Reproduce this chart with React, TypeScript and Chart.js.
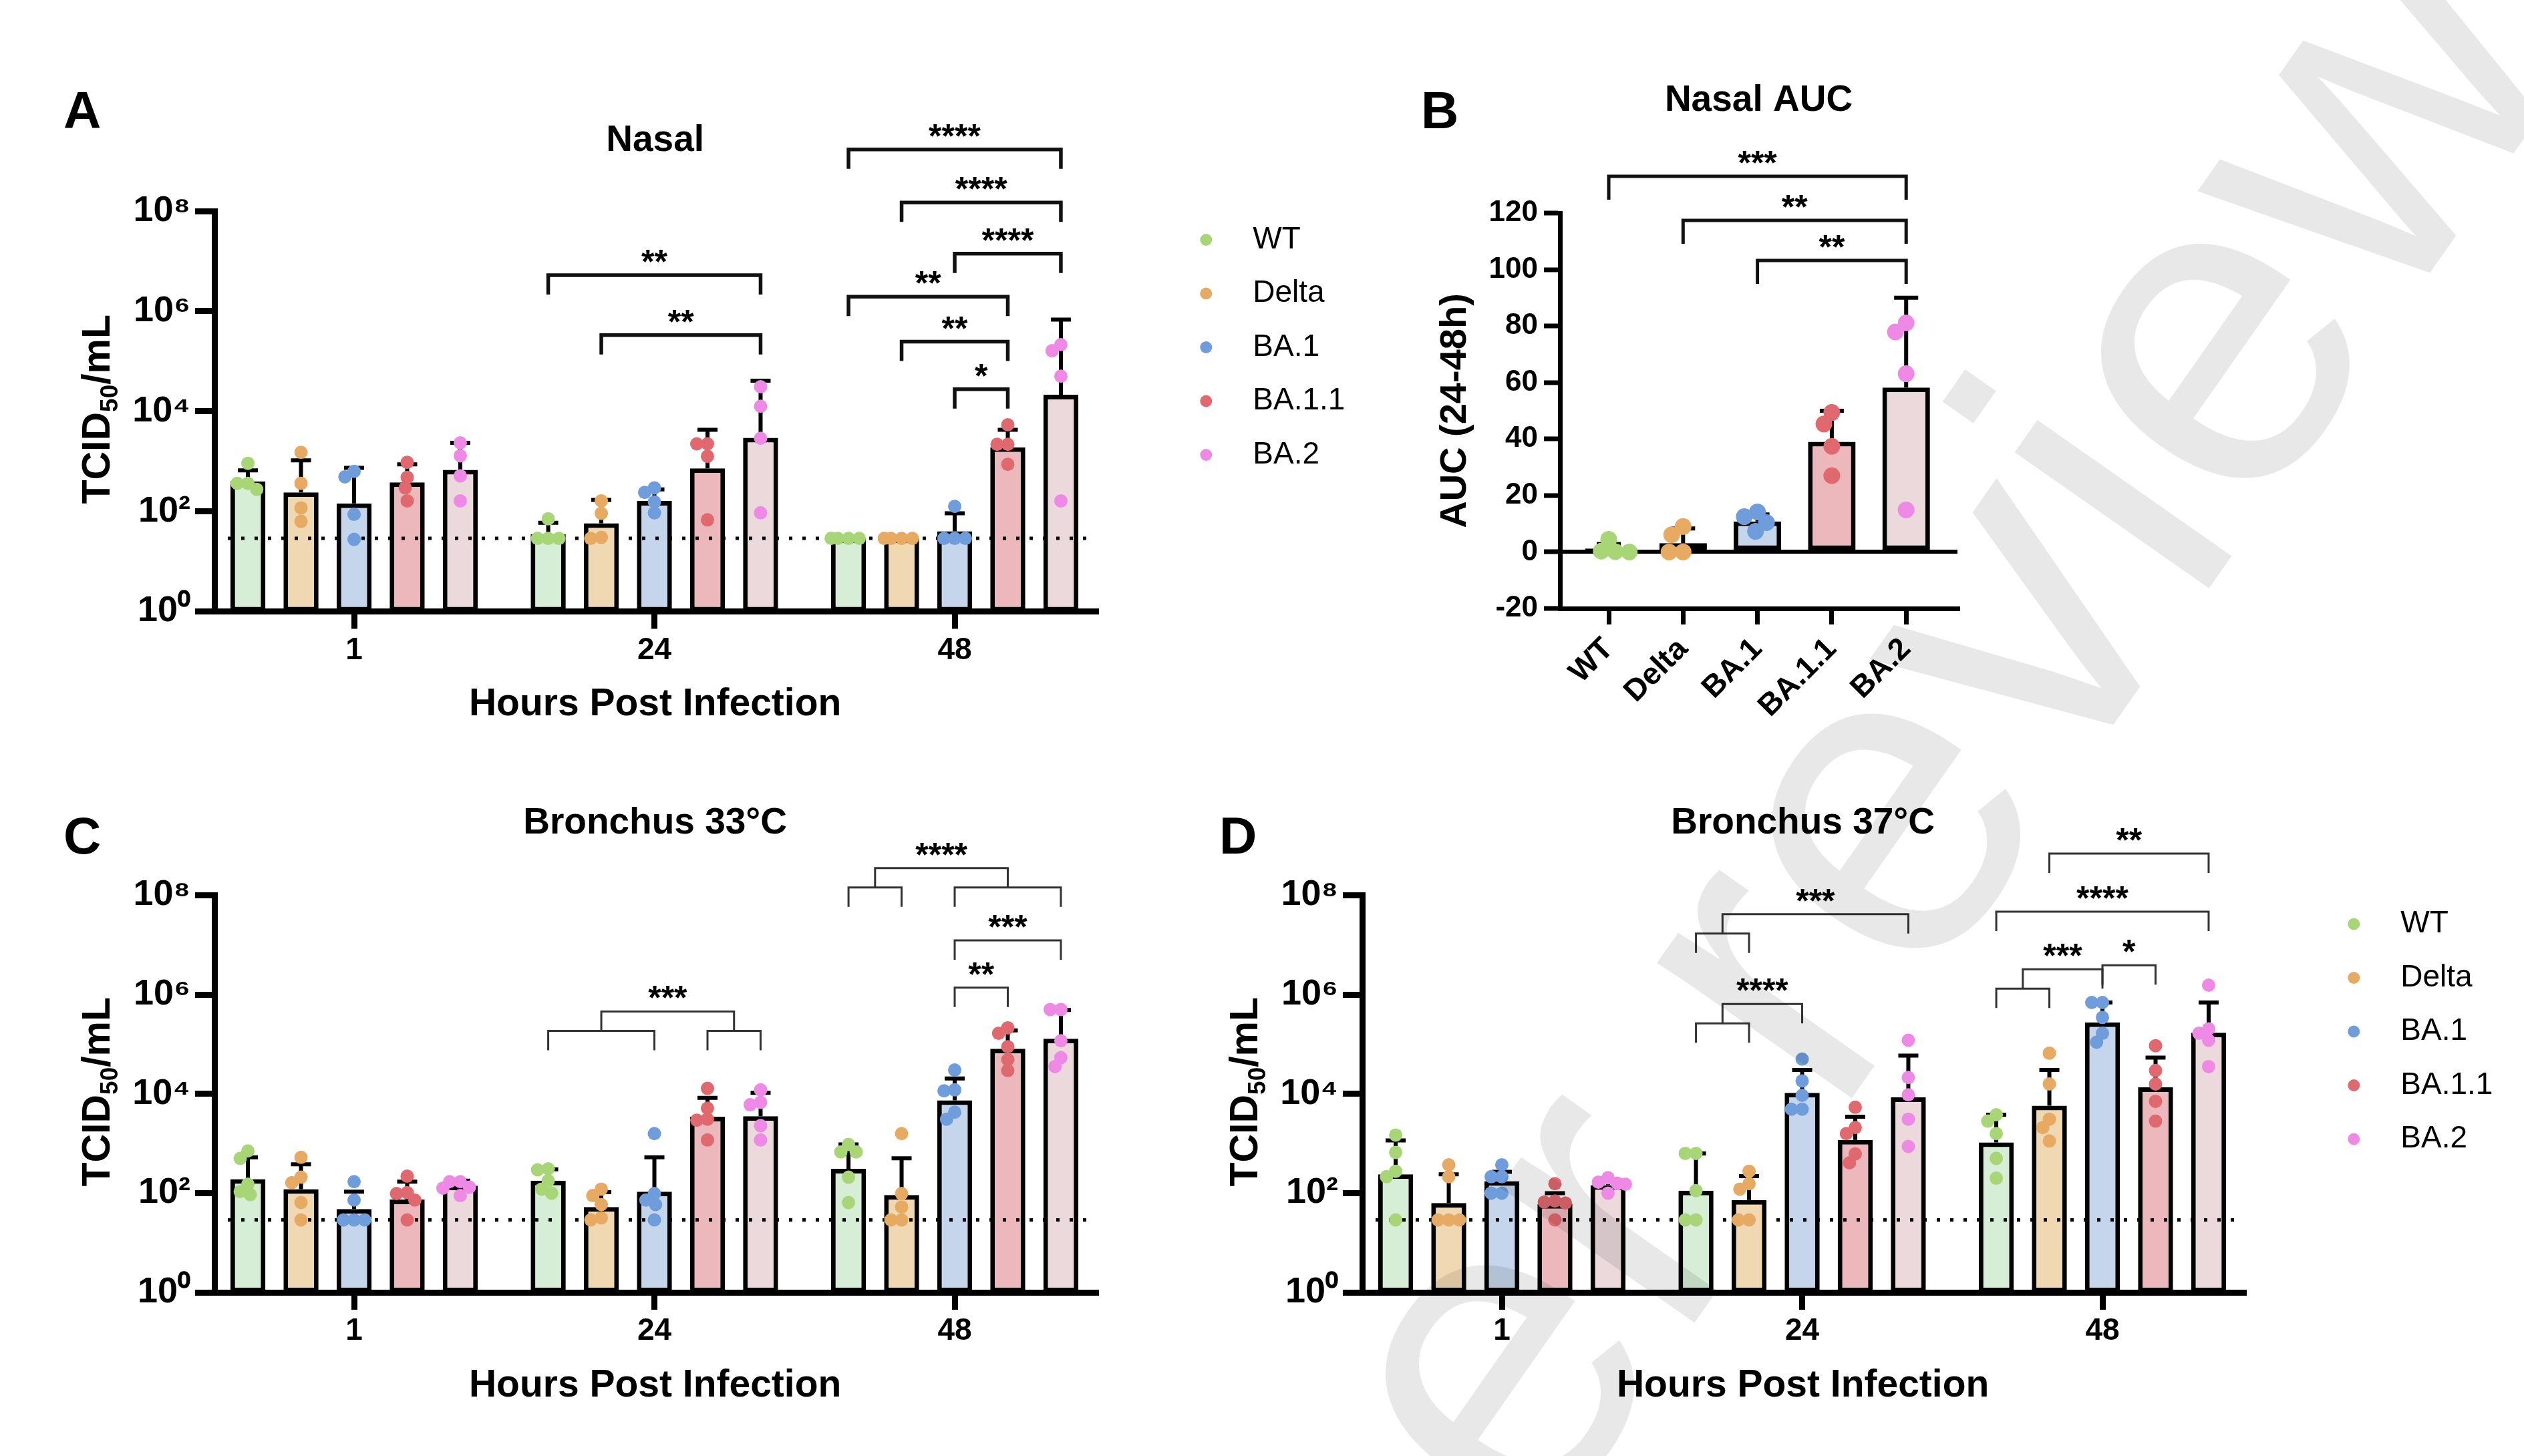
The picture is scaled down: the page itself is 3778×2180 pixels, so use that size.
import React, { useEffect, useRef } from 'react';
import { Chart, registerables } from 'chart.js';

Chart.register(...registerables);

const FONT = '"Liberation Sans", Arial, Helvetica, sans-serif';
const W = 3778;
const H = 2180;

// ---------- shared categories ----------
const SERIES = ['WT', 'Delta', 'BA.1', 'BA.1.1', 'BA.2'];
const HOURS = ['1', '24', '48'];
const LOG_TICK_EXPONENTS = [0, 2, 4, 6, 8];
const SUPERSCRIPTS = ['⁰', '¹', '²', '³', '⁴', '⁵', '⁶', '⁷', '⁸', '⁹'];
const POINT_COLORS = ['#a8d677', '#e6aa62', '#6f9cdb', '#e0686f', '#ee89e6'];
const BAR_COLORS = ['#d6edd6', '#f0d8b2', '#c5d5eb', '#ecb8bc', '#ecd9dc'];
const LOD_LOG10 = 1.46; // limit of detection (dotted line)

// ---------- A: Nasal (log10 TCID50/mL), [series][hour] ----------
const nasalMeanLog = [
  [2.6, 1.54, 1.46],
  [2.38, 1.76, 1.46],
  [2.16, 2.21, 1.6],
  [2.58, 2.86, 3.28],
  [2.83, 3.47, 4.33],
];
const nasalErrTopLog = [
  [2.82, 1.77, null],
  [3.02, 2.23, null],
  [2.87, 2.44, 1.96],
  [2.94, 3.63, 3.63],
  [3.37, 4.61, 5.83],
];
const nasalPointsLog = [
  [[2.96, 2.56, 2.56, 2.44], [1.85, 1.46, 1.46, 1.46], [1.46, 1.46, 1.46, 1.46]],
  [[3.18, 2.56, 2.07, 1.8], [2.21, 1.96, 1.48, 1.46], [1.46, 1.46, 1.46, 1.46]],
  [[2.8, 2.69, 1.94, 1.44], [2.47, 2.38, 2.19, 1.97], [2.1, 1.46, 1.46, 1.46]],
  [[2.98, 2.68, 2.47, 2.21], [3.35, 3.35, 3.1, 1.83], [3.73, 3.34, 3.34, 2.94]],
  [[3.37, 3.11, 2.71, 2.21], [4.49, 4.1, 3.46, 1.97], [5.33, 5.21, 4.7, 2.21]],
];
// [hour, leftFrom, leftTo, rightFrom, rightTo, level (log10), label]
const nasalBrackets: [number, number, number, number, number, number, string][] = [
  [1, 0, 0, 4, 4, 6.72, '**'],
  [1, 1, 1, 4, 4, 5.52, '**'],
  [2, 0, 0, 4, 4, 9.23, '****'],
  [2, 1, 1, 4, 4, 8.17, '****'],
  [2, 2, 2, 4, 4, 7.15, '****'],
  [2, 0, 0, 3, 3, 6.29, '**'],
  [2, 1, 1, 3, 3, 5.39, '**'],
  [2, 2, 2, 3, 3, 4.44, '*'],
];

// ---------- B: Nasal AUC (24-48h) ----------
const aucMean = [1.2, 3.1, 10.8, 39.0, 58.2];
const aucErrTop = [2.8, 8.3, 13.3, 50.0, 90.0];
const aucPoints = [
  [4.5, 0.3, 0.1, 0.0],
  [9.0, 6.1, 0.0, 0.0],
  [14.2, 12.5, 10.4, 7.3],
  [49.4, 45.3, 37.4, 27.0],
  [81.1, 77.9, 63.1, 14.9],
];
const aucBrackets: [number, number, number, number, number, number, string][] = [
  [0, 0, 0, 4, 4, 133, '***'],
  [0, 1, 1, 4, 4, 117.4, '**'],
  [0, 2, 2, 4, 4, 103.2, '**'],
];

// ---------- C: Bronchus 33°C (log10 TCID50/mL) ----------
const b33MeanLog = [
  [2.28, 2.25, 2.49],
  [2.08, 1.72, 1.96],
  [1.68, 2.03, 3.87],
  [1.87, 3.54, 4.91],
  [2.15, 3.55, 5.11],
];
const b33ErrTopLog = [
  [2.72, 2.48, 2.98],
  [2.58, 2.02, 2.7],
  [2.03, 2.72, 4.31],
  [2.23, 3.92, 5.28],
  [2.25, 4.02, 5.69],
];
const b33PointsLog = [
  [[2.85, 2.7, 2.18, 2.03, 1.97], [2.49, 2.47, 2.25, 2.08, 2.0], [2.98, 2.83, 2.83, 2.32, 1.81]],
  [[2.72, 2.32, 2.21, 1.81, 1.46], [2.08, 1.95, 1.77, 1.5, 1.46], [3.2, 1.99, 1.72, 1.46, 1.46]],
  [[2.23, 1.86, 1.46, 1.46, 1.46], [3.2, 1.99, 1.86, 1.77, 1.46], [4.48, 4.08, 4.06, 3.63, 3.49]],
  [[2.34, 2.01, 1.99, 1.86, 1.46], [4.11, 3.71, 3.49, 3.47, 3.07], [5.33, 5.22, 4.95, 4.69, 4.47]],
  [[2.23, 2.23, 2.12, 2.1, 1.95], [4.08, 3.83, 3.78, 3.36, 3.07], [5.7, 5.7, 5.07, 4.73, 4.55]],
];
const b33Brackets: [number, number, number, number, number, number, string][] = [
  [1, 0, 2, 3, 4, 5.66, '***'],
  [2, 0, 1, 2, 4, 8.55, '****'],
  [2, 2, 2, 4, 4, 7.09, '***'],
  [2, 2, 2, 3, 3, 6.14, '**'],
];

// ---------- D: Bronchus 37°C (log10 TCID50/mL) ----------
const b37MeanLog = [
  [2.38, 2.05, 3.02],
  [1.8, 1.86, 3.76],
  [2.24, 4.02, 5.44],
  [1.78, 3.07, 4.13],
  [2.16, 3.93, 5.23],
];
const b37ErrTopLog = [
  [3.06, 2.8, 3.58],
  [2.38, 2.34, 4.48],
  [2.43, 4.48, 5.84],
  [2.0, 3.54, 4.73],
  [2.27, 4.77, 5.84],
];
const b37PointsLog = [
  [[3.17, 2.82, 2.44, 2.33, 1.46], [2.8, 2.8, 2.05, 1.46, 1.46], [3.58, 3.45, 3.2, 2.7, 2.3]],
  [[2.57, 2.33, 1.46, 1.46, 1.46], [2.44, 2.19, 2.08, 1.46, 1.46], [4.82, 4.2, 3.49, 3.32, 3.05]],
  [[2.57, 2.33, 2.33, 2.0, 2.0], [4.7, 4.26, 3.97, 3.69, 3.69], [5.84, 5.84, 5.54, 5.22, 5.04]],
  [[2.19, 1.84, 1.82, 1.8, 1.46], [3.73, 3.32, 3.2, 2.79, 2.61], [4.97, 4.47, 4.2, 3.85, 3.45]],
  [[2.31, 2.22, 2.2, 2.18, 2.0], [5.08, 4.33, 3.98, 3.49, 2.94], [6.19, 5.31, 5.22, 5.08, 4.55]],
];
const b37Brackets: [number, number, number, number, number, number, string][] = [
  [1, 0, 1, 4, 4, 7.62, '***'],
  [1, 0, 1, 2, 2, 5.81, '****'],
  [2, 1, 1, 4, 4, 8.84, '**'],
  [2, 0, 0, 4, 4, 7.67, '****'],
  [2, 0, 1, 2, 2, 6.51, '***'],
  [2, 2, 2, 3, 3, 6.59, '*'],
];

// ---------- layout / style constants ----------
const X_MIN = -0.465;
const X_MAX = 2.47;
const UNIT_PX = 449.5;
const CAT_PCT = 0.884;
const BAR_PCT = 0.66;
const AUC_X_MIN = -0.656;
const AUC_X_MAX = 4.69;

type Bracket = [number, number, number, number, number, number, string];

function swarm(chart: any, spacing: number, maxOff: number) {
  chart.data.datasets.forEach((ds: any, i: number) => {
    if (!ds.swarm) return;
    const meta = chart.getDatasetMeta(i);
    const groups = new Map<number, any[]>();
    meta.data.forEach((el: any, j: number) => {
      const key = ds.data[j].x;
      if (!groups.has(key)) groups.set(key, []);
      groups.get(key)!.push(el);
    });
    groups.forEach((els) => {
      const sorted = [...els].sort((a, b) => a.y - b.y);
      const placed: { y: number; off: number }[] = [];
      sorted.forEach((el) => {
        const near = placed.filter((p) => Math.abs(p.y - el.y) < spacing);
        const need = (p: { y: number }) => Math.sqrt(spacing * spacing - (p.y - el.y) ** 2);
        const cands = [0];
        near.forEach((p) => {
          cands.push(p.off - need(p), p.off + need(p));
        });
        cands.sort((a, b) => Math.abs(a) - Math.abs(b) || a - b);
        let off = cands.find((c) => near.every((p) => Math.abs(c - p.off) >= need(p) - 0.5));
        if (off === undefined) off = 0;
        off = Math.max(-maxOff, Math.min(maxOff, off));
        placed.push({ y: el.y, off });
        el.x = el.x + off;
      });
    });
  });
}

function drawErrorBars(chart: any, index: number, width: number, cap: number) {
  const ds = chart.data.datasets[index];
  if (!ds.errTop) return;
  const meta = chart.getDatasetMeta(index);
  const ys = chart.scales.y;
  const ctx = chart.ctx;
  ctx.save();
  ctx.strokeStyle = '#000';
  ctx.lineWidth = width;
  meta.data.forEach((el: any, j: number) => {
    const v = ds.errTop[j];
    if (v == null) return;
    const yt = ys.getPixelForValue(v);
    if (yt >= el.y - 1) return;
    ctx.beginPath();
    ctx.moveTo(el.x, el.y);
    ctx.lineTo(el.x, yt);
    ctx.moveTo(el.x - cap / 2, yt);
    ctx.lineTo(el.x + cap / 2, yt);
    ctx.stroke();
  });
  ctx.restore();
}

function drawBrackets(
  chart: any,
  items: Bracket[],
  barX: (g: number, s: number) => number,
  toVal: (v: number) => number,
  leg: number,
  lw: number,
  color: string,
  fontSize: number
) {
  const ctx = chart.ctx;
  const ys = chart.scales.y;
  ctx.save();
  ctx.strokeStyle = color;
  ctx.lineWidth = lw;
  ctx.lineJoin = 'miter';
  ctx.lineCap = 'butt';
  ctx.fillStyle = '#000';
  ctx.font = `bold ${fontSize}px ${FONT}`;
  ctx.textAlign = 'center';
  ctx.textBaseline = 'alphabetic';
  items.forEach(([g, l0, l1, r0, r1, level, label]) => {
    const yTop = ys.getPixelForValue(toVal(level));
    const side = (a: number, b: number) => {
      if (a === b) return { x: barX(g, a), yEnd: yTop + leg };
      const xa = barX(g, a);
      const xb = barX(g, b);
      const ySub = yTop + leg;
      ctx.beginPath();
      ctx.moveTo(xa, ySub + leg);
      ctx.lineTo(xa, ySub);
      ctx.lineTo(xb, ySub);
      ctx.lineTo(xb, ySub + leg);
      ctx.stroke();
      return { x: (xa + xb) / 2, yEnd: ySub };
    };
    const L = side(l0, l1);
    const R = side(r0, r1);
    ctx.beginPath();
    ctx.moveTo(L.x, L.yEnd);
    ctx.lineTo(L.x, yTop);
    ctx.lineTo(R.x, yTop);
    ctx.lineTo(R.x, R.yEnd);
    ctx.stroke();
    ctx.fillText(label, (L.x + R.x) / 2, yTop - 3);
  });
  ctx.restore();
}

function drawTcidTitle(ctx: CanvasRenderingContext2D, x: number, y: number, size: number) {
  ctx.save();
  ctx.translate(x, y);
  ctx.rotate(-Math.PI / 2);
  const big = `bold ${size}px ${FONT}`;
  const small = `bold ${Math.round(size * 0.62)}px ${FONT}`;
  ctx.font = big;
  const w1 = ctx.measureText('TCID').width;
  const w3 = ctx.measureText('/mL').width;
  ctx.font = small;
  const w2 = ctx.measureText('50').width;
  let cx = -(w1 + w2 + w3) / 2;
  ctx.fillStyle = '#000';
  ctx.textAlign = 'left';
  ctx.textBaseline = 'alphabetic';
  ctx.font = big;
  ctx.fillText('TCID', cx, 0);
  cx += w1;
  ctx.font = small;
  ctx.fillText('50', cx, size * 0.2);
  cx += w2;
  ctx.font = big;
  ctx.fillText('/mL', cx, 0);
  ctx.restore();
}

function drawLetter(ctx: CanvasRenderingContext2D, letter: string, x: number, y: number) {
  ctx.save();
  ctx.fillStyle = '#000';
  ctx.font = `bold 78px ${FONT}`;
  ctx.textAlign = 'left';
  ctx.textBaseline = 'alphabetic';
  ctx.fillText(letter, x, y);
  ctx.restore();
}

function drawLegend(chart: any) {
  const ctx = chart.ctx;
  const a = chart.chartArea;
  ctx.save();
  SERIES.forEach((name, s) => {
    const y = a.top + 43 + s * 80.5;
    ctx.fillStyle = POINT_COLORS[s];
    ctx.beginPath();
    ctx.arc(a.right + 165, y, 9, 0, Math.PI * 2);
    ctx.fill();
    ctx.fillStyle = '#000';
    ctx.font = `46px ${FONT}`;
    ctx.textAlign = 'left';
    ctx.textBaseline = 'middle';
    ctx.fillText(name, a.right + 235, y);
  });
  ctx.restore();
}

function drawWatermark(ctx: CanvasRenderingContext2D) {
  ctx.save();
  ctx.translate(1824, 2998);
  ctx.rotate((-55 * Math.PI) / 180);
  ctx.fillStyle = 'rgba(0,0,0,0.09)';
  ctx.font = `672px ${FONT}`;
  ctx.textAlign = 'left';
  ctx.textBaseline = 'alphabetic';
  ctx.fillText('Peer review', 0, 0);
  ctx.restore();
}

interface LogPanel {
  id: string;
  title: string;
  letter: string;
  letterPos: [number, number];
  mean: number[][];
  errTop: (number | null)[][];
  points: number[][][];
  brackets: Bracket[];
  left: number;
  top: number;
  bottom: number;
  titleMid: number;
  legend: boolean;
  watermark: boolean;
  bracketWidth: number;
  bracketColor: string;
}

const panels: LogPanel[] = [
  {
    id: 'A', title: 'Nasal', letter: 'A', letterPos: [95, 192],
    mean: nasalMeanLog, errTop: nasalErrTopLog, points: nasalPointsLog, brackets: nasalBrackets,
    left: 321, top: 316, bottom: 915.5, titleMid: 211, legend: true, watermark: false,
    bracketWidth: 5.5, bracketColor: '#111',
  },
  {
    id: 'C', title: 'Bronchus 33°C', letter: 'C', letterPos: [95, 1278],
    mean: b33MeanLog, errTop: b33ErrTopLog, points: b33PointsLog, brackets: b33Brackets,
    left: 321, top: 1340.5, bottom: 1935, titleMid: 1233, legend: false, watermark: false,
    bracketWidth: 3, bracketColor: '#333',
  },
  {
    id: 'D', title: 'Bronchus 37°C', letter: 'D', letterPos: [1825, 1278],
    mean: b37MeanLog, errTop: b37ErrTopLog, points: b37PointsLog, brackets: b37Brackets,
    left: 2039, top: 1340.5, bottom: 1935, titleMid: 1233, legend: true, watermark: true,
    bracketWidth: 3, bracketColor: '#333',
  },
];

function logConfig(p: LogPanel): any {
  const right = p.left + (X_MAX - X_MIN) * UNIT_PX;
  const yW = 200;
  const xH = 174;
  const titleLH = 66;
  const pt = p.titleMid - titleLH / 2;
  const pb = p.top - pt - titleLH;
  const datasets: any[] = [];
  SERIES.forEach((name, s) => {
    datasets.push({
      type: 'bar',
      label: name,
      data: HOURS.map((_, g) => ({ x: g, y: 10 ** p.mean[s][g] })),
      errTop: p.errTop[s].map((v) => (v == null ? null : 10 ** v)),
      backgroundColor: BAR_COLORS[s],
      borderColor: '#000',
      borderWidth: 7,
      borderSkipped: false,
      categoryPercentage: CAT_PCT,
      barPercentage: BAR_PCT,
      order: 3,
    });
  });
  datasets.push({
    type: 'line',
    label: 'LOD',
    data: [
      { x: X_MIN, y: 10 ** LOD_LOG10 },
      { x: X_MAX, y: 10 ** LOD_LOG10 },
    ],
    borderColor: '#000',
    borderWidth: 5,
    borderDash: [5, 15],
    pointRadius: 0,
    order: 2,
  });
  SERIES.forEach((name, s) => {
    const data: { x: number; y: number }[] = [];
    p.points[s].forEach((vals, g) =>
      vals.forEach((v) => data.push({ x: g + ((s - 2) * CAT_PCT) / 5, y: 10 ** v }))
    );
    datasets.push({
      type: 'scatter',
      label: name + ' (individual)',
      data,
      backgroundColor: POINT_COLORS[s],
      borderWidth: 0,
      pointRadius: 10,
      order: 1,
      swarm: true,
    });
  });

  const decor = {
    id: 'decor' + p.id,
    afterDatasetsUpdate(chart: any) {
      swarm(chart, 16, 26);
    },
    afterDatasetDraw(chart: any, args: any) {
      drawErrorBars(chart, args.index, 6, 30);
    },
    afterDraw(chart: any) {
      const a = chart.chartArea;
      drawBrackets(
        chart,
        p.brackets,
        (g, s) => chart.getDatasetMeta(s).data[g].x,
        (v) => 10 ** v,
        29,
        p.bracketWidth,
        p.bracketColor,
        50
      );
      drawTcidTitle(chart.ctx, a.left - 157, (a.top + a.bottom) / 2 - 3, 59);
      drawLetter(chart.ctx, p.letter, p.letterPos[0], p.letterPos[1]);
      if (p.legend) drawLegend(chart);
      if (p.watermark) drawWatermark(chart.ctx);
    },
  };

  return {
    type: 'bar',
    data: { datasets },
    options: {
      responsive: false,
      animation: false,
      events: [],
      layout: {
        padding: { left: p.left - yW, right: W - right, top: 0, bottom: H - p.bottom - xH },
      },
      plugins: {
        legend: { display: false },
        tooltip: { enabled: false },
        title: {
          display: true,
          text: p.title,
          color: '#000',
          fullSize: false,
          font: { family: FONT, size: 55, weight: 'bold', lineHeight: 1.2 },
          padding: { top: pt, bottom: pb },
        },
      },
      scales: {
        x: {
          type: 'linear',
          offset: false,
          min: X_MIN,
          max: X_MAX,
          afterBuildTicks: (sc: any) => {
            sc.ticks = HOURS.map((_, i) => ({ value: i }));
          },
          afterFit: (sc: any) => {
            sc.height = xH;
          },
          grid: { offset: false, drawOnChartArea: false, tickLength: 26, tickWidth: 9, tickColor: '#000', lineWidth: 9, color: '#000' },
          border: { color: '#000', width: 9 },
          ticks: {
            callback: (v: number) => HOURS[v] ?? '',
            color: '#000',
            font: { family: FONT, size: 46, weight: 'bold' },
            padding: 5,
            maxRotation: 0,
            minRotation: 0,
            autoSkip: false,
          },
          title: {
            display: true,
            text: 'Hours Post Infection',
            color: '#000',
            font: { family: FONT, size: 57, weight: 'bold' },
            padding: 0,
          },
        },
        y: {
          type: 'logarithmic',
          min: 1,
          max: 1e8,
          afterBuildTicks: (sc: any) => {
            sc.ticks = LOG_TICK_EXPONENTS.map((e) => ({ value: 10 ** e }));
          },
          afterFit: (sc: any) => {
            sc.width = yW;
          },
          grid: { drawOnChartArea: false, tickLength: 29, tickWidth: 9, tickColor: '#000', lineWidth: 9, color: '#000' },
          border: { color: '#000', width: 9 },
          ticks: {
            callback: (v: number) => '10' + SUPERSCRIPTS[Math.round(Math.log10(v))],
            color: '#000',
            font: { family: FONT, size: 54, weight: 'bold' },
            padding: 7,
            autoSkip: false,
          },
        },
      },
    },
    plugins: [decor],
  };
}

function aucConfig(): any {
  const left = 2335;
  const right = 2930;
  const top = 319;
  const bottom = 911;
  const yW = 189.6;
  const xH = 200;
  const titleMid = 151;
  const pt = titleMid - 33;
  const pb = top - pt - 66;
  const datasets: any[] = [
    {
      type: 'bar',
      label: 'AUC',
      data: SERIES.map((_, s) => ({ x: s, y: aucMean[s] })),
      errTop: aucErrTop,
      backgroundColor: BAR_COLORS,
      borderColor: '#000',
      borderWidth: 7,
      borderSkipped: false,
      categoryPercentage: 1,
      barPercentage: 0.64,
      order: 3,
    },
  ];
  SERIES.forEach((name, s) => {
    datasets.push({
      type: 'scatter',
      label: name + ' (individual)',
      data: aucPoints[s].map((v) => ({ x: s, y: v })),
      backgroundColor: POINT_COLORS[s],
      borderWidth: 0,
      pointRadius: 12.5,
      order: 1,
      swarm: true,
    });
  });
  const decor = {
    id: 'decorB',
    afterDatasetsUpdate(chart: any) {
      swarm(chart, 21, 34);
    },
    afterDatasetDraw(chart: any, args: any) {
      drawErrorBars(chart, args.index, 6, 36);
    },
    afterDraw(chart: any) {
      drawBrackets(
        chart,
        aucBrackets,
        (_g, s) => chart.getDatasetMeta(0).data[s].x,
        (v) => v,
        35,
        5,
        '#111',
        50
      );
      drawLetter(chart.ctx, 'B', 2127, 192);
    },
  };
  return {
    type: 'bar',
    data: { datasets },
    options: {
      responsive: false,
      animation: false,
      events: [],
      layout: { padding: { left: left - yW, right: W - right, top: 0, bottom: H - bottom - xH } },
      plugins: {
        legend: { display: false },
        tooltip: { enabled: false },
        title: {
          display: true,
          text: 'Nasal AUC',
          color: '#000',
          fullSize: false,
          font: { family: FONT, size: 55, weight: 'bold', lineHeight: 1.2 },
          padding: { top: pt, bottom: pb },
        },
      },
      scales: {
        x: {
          type: 'linear',
          offset: false,
          min: AUC_X_MIN,
          max: AUC_X_MAX,
          afterBuildTicks: (sc: any) => {
            sc.ticks = SERIES.map((_, i) => ({ value: i }));
          },
          afterFit: (sc: any) => {
            sc.height = xH;
          },
          grid: { offset: false, drawOnChartArea: false, tickLength: 24, tickWidth: 7, tickColor: '#000', lineWidth: 7, color: '#000' },
          border: { color: '#000', width: 7 },
          ticks: {
            callback: (v: number) => SERIES[v] ?? '',
            color: '#000',
            font: { family: FONT, size: 46, weight: 'bold' },
            padding: 10,
            maxRotation: 45,
            minRotation: 45,
            autoSkip: false,
          },
        },
        y: {
          type: 'linear',
          min: -20,
          max: 120,
          ticks: {
            stepSize: 20,
            color: '#000',
            font: { family: FONT, size: 44, weight: 'bold' },
            padding: 9,
            autoSkip: false,
          },
          afterFit: (sc: any) => {
            sc.width = yW;
          },
          grid: {
            drawOnChartArea: true,
            color: (c: any) => (c.tick && c.tick.value === 0 ? '#000' : 'rgba(0,0,0,0)'),
            lineWidth: 6,
            tickLength: 24,
            tickWidth: 7,
            tickColor: '#000',
          },
          border: { color: '#000', width: 7 },
          title: {
            display: true,
            text: 'AUC (24-48h)',
            color: '#000',
            font: { family: FONT, size: 56, weight: 'bold', lineHeight: 1.2 },
            padding: 0,
          },
        },
      },
    },
    plugins: [decor],
  };
}

export default function App() {
  const refA = useRef<HTMLCanvasElement>(null);
  const refB = useRef<HTMLCanvasElement>(null);
  const refC = useRef<HTMLCanvasElement>(null);
  const refD = useRef<HTMLCanvasElement>(null);

  useEffect(() => {
    document.body.style.margin = '0';
    document.body.style.background = '#fff';
    Chart.defaults.color = '#000';
    Chart.defaults.font.family = FONT;
    const charts = [
      new Chart(refA.current as HTMLCanvasElement, logConfig(panels[0])),
      new Chart(refB.current as HTMLCanvasElement, aucConfig()),
      new Chart(refC.current as HTMLCanvasElement, logConfig(panels[1])),
      new Chart(refD.current as HTMLCanvasElement, logConfig(panels[2])),
    ];
    return () => charts.forEach((c) => c.destroy());
  }, []);

  const cs: React.CSSProperties = { position: 'absolute', left: 0, top: 0 };
  return (
    <div style={{ position: 'absolute', left: 0, top: 0, width: W, height: H, background: '#fff', overflow: 'hidden' }}>
      <canvas ref={refA} width={W} height={H} style={cs} />
      <canvas ref={refB} width={W} height={H} style={cs} />
      <canvas ref={refC} width={W} height={H} style={cs} />
      <canvas ref={refD} width={W} height={H} style={cs} />
    </div>
  );
}
